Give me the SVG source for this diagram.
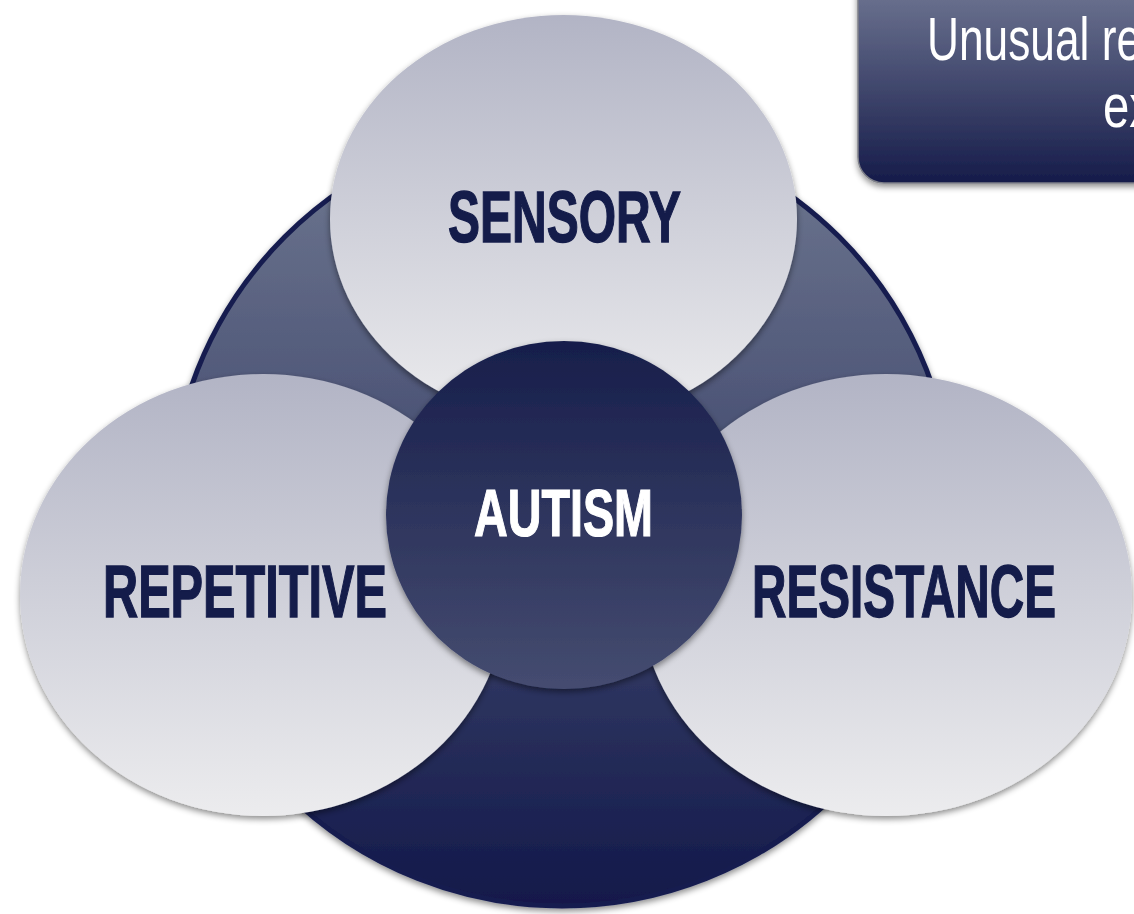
<svg xmlns="http://www.w3.org/2000/svg" width="1134" height="914" viewBox="0 0 1134 914">
  <defs>
    <linearGradient id="gBase" x1="0" y1="120" x2="0" y2="908" gradientUnits="userSpaceOnUse">
      <stop offset="0" stop-color="#717a92"/>
      <stop offset="1" stop-color="#12184a"/>
    </linearGradient>
    <linearGradient id="gLight" x1="0" y1="0" x2="0" y2="1">
      <stop offset="0" stop-color="#b2b4c5"/>
      <stop offset="1" stop-color="#ececee"/>
    </linearGradient>
    <linearGradient id="gCore" x1="0" y1="0" x2="0" y2="1">
      <stop offset="0" stop-color="#171e4b"/>
      <stop offset="1" stop-color="#454c70"/>
    </linearGradient>
    <linearGradient id="gBox" x1="0" y1="0" x2="0" y2="183" gradientUnits="userSpaceOnUse">
      <stop offset="0" stop-color="#676e8c"/>
      <stop offset="1" stop-color="#161c4a"/>
    </linearGradient>
    <filter id="shadow" x="-20%" y="-20%" width="140%" height="140%">
      <feDropShadow dx="0" dy="3" stdDeviation="3" flood-color="#000" flood-opacity="0.45"/>
    </filter>
  </defs>
  <style>
    .petal { fill: url(#gLight); filter: url(#shadow); }
    .label { font-family: "Liberation Sans", Arial, sans-serif; font-weight: 700; fill: #141c4a; stroke: #141c4a; stroke-width: 1.4; }
    .core-label { font-family: "Liberation Sans", Arial, sans-serif; font-weight: 700; fill: #ffffff; stroke: #ffffff; stroke-width: 1.2; }
    .note { font-family: "Liberation Sans", Arial, sans-serif; font-weight: 400; fill: #ffffff; }
  </style>

  <!-- large backing disc -->
  <g id="base">
    <circle cx="562" cy="514" r="392" fill="url(#gBase)" stroke="#161d4f" stroke-width="5" filter="url(#shadow)"/>
  </g>

  <!-- outer petals -->
  <g id="sensory">
    <ellipse class="petal" cx="563.5" cy="219" rx="233.5" ry="204"/>
    <text class="label" x="448" y="242" font-size="73" textLength="233" lengthAdjust="spacingAndGlyphs">SENSORY</text>
  </g>
  <g id="repetitive">
    <ellipse class="petal" cx="263" cy="595" rx="243" ry="221"/>
    <text class="label" x="103" y="617" font-size="75" textLength="284" lengthAdjust="spacingAndGlyphs">REPETITIVE</text>
  </g>
  <g id="resistance">
    <ellipse class="petal" cx="886" cy="595" rx="246" ry="221"/>
    <text class="label" x="752" y="617" font-size="75" textLength="304" lengthAdjust="spacingAndGlyphs">RESISTANCE</text>
  </g>

  <!-- centre -->
  <g id="autism">
    <ellipse cx="564" cy="515" rx="178" ry="174" fill="url(#gCore)" filter="url(#shadow)"/>
    <text class="core-label" x="474" y="536" font-size="67" textLength="179" lengthAdjust="spacingAndGlyphs">AUTISM</text>
  </g>

  <!-- callout box, top right (runs past the right edge) -->
  <g id="callout">
    <rect x="858" y="-40" width="320" height="223" rx="26" fill="url(#gBox)" stroke="#7d7f88" stroke-width="1.5" filter="url(#shadow)"/>
    <text class="note" x="927" y="60" font-size="62" textLength="214" lengthAdjust="spacingAndGlyphs">Unusual re</text>
    <text class="note" x="1103" y="127" font-size="62" textLength="50" lengthAdjust="spacingAndGlyphs">ex</text>
  </g>

  <g id="connectors"></g>
</svg>
